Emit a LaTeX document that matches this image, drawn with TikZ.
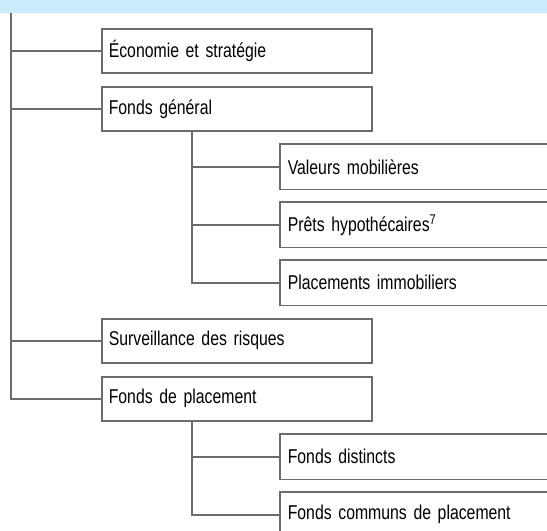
\documentclass[tikz,border=0pt]{standalone}
\usepackage{fontspec}
\setmainfont{Liberation Sans}[FakeStretch=0.79]
\usepackage{tikz}
\usetikzlibrary{positioning,calc}
\definecolor{barblue}{HTML}{CCEBFC}
\definecolor{linegray}{HTML}{6C6C6C}

\begin{document}
\begin{tikzpicture}[
  x=0.75pt, y=-0.75pt,
  unit/.style={draw=linegray, line width=1.2pt, anchor=north west,
    text width=192pt, align=left, inner xsep=5.25pt,
    minimum height=33pt, font=\fontsize{15pt}{17pt}\selectfont},
  subunit/.style={unit, draw=none, text width=250pt},
  link/.style={draw=linegray, line width=1.2pt}
]
\useasboundingbox (0,0) rectangle (547,531);
\clip (0,0) rectangle (547,531);

\fill[barblue] (0,0) rectangle (547,13);

% First level
\node[unit] (eco) at (101,28) {Économie et stratégie};
\node[unit] (fg) at (101,86) {Fonds général};
\node[unit] (risk) at (101,318) {Surveillance des risques};
\node[unit] (fdp) at (101,376) {Fonds de placement};

% Under the general fund
\node[subunit] (vm) at (280,144) {Valeurs mobilières};
\node[subunit] (ph) at (280,202) {Prêts hypothécaires\textsuperscript{7}};
\node[subunit] (pi) at (280,260) {Placements immobiliers};

% Under the investment funds
\node[subunit] (fd) at (280,434) {Fonds distincts};
\node[subunit] (fcp) at (280,492) {Fonds communs de placement};

% sub boxes run out of the picture on the right
\foreach \n in {vm,ph,pi,fd,fcp}
  \draw[link] ([xshift=300pt]\n.north west) -- (\n.north west)
    -- (\n.south west) -- ([xshift=300pt]\n.south west);

\coordinate (root) at (11,13);
\coordinate (gsplit) at (192,0 |- fg.south);
\coordinate (psplit) at (192,0 |- fdp.south);

\draw[link] (root) |- (fdp.west);
\draw[link] (root |- eco.west) -- (eco.west);
\draw[link] (root |- fg.west) -- (fg.west);
\draw[link] (root |- risk.west) -- (risk.west);

\draw[link] (gsplit) |- (pi.west);
\draw[link] (gsplit |- vm.west) -- (vm.west);
\draw[link] (gsplit |- ph.west) -- (ph.west);

\draw[link] (psplit) |- (fcp.west);
\draw[link] (psplit |- fd.west) -- (fd.west);

\end{tikzpicture}
\end{document}
